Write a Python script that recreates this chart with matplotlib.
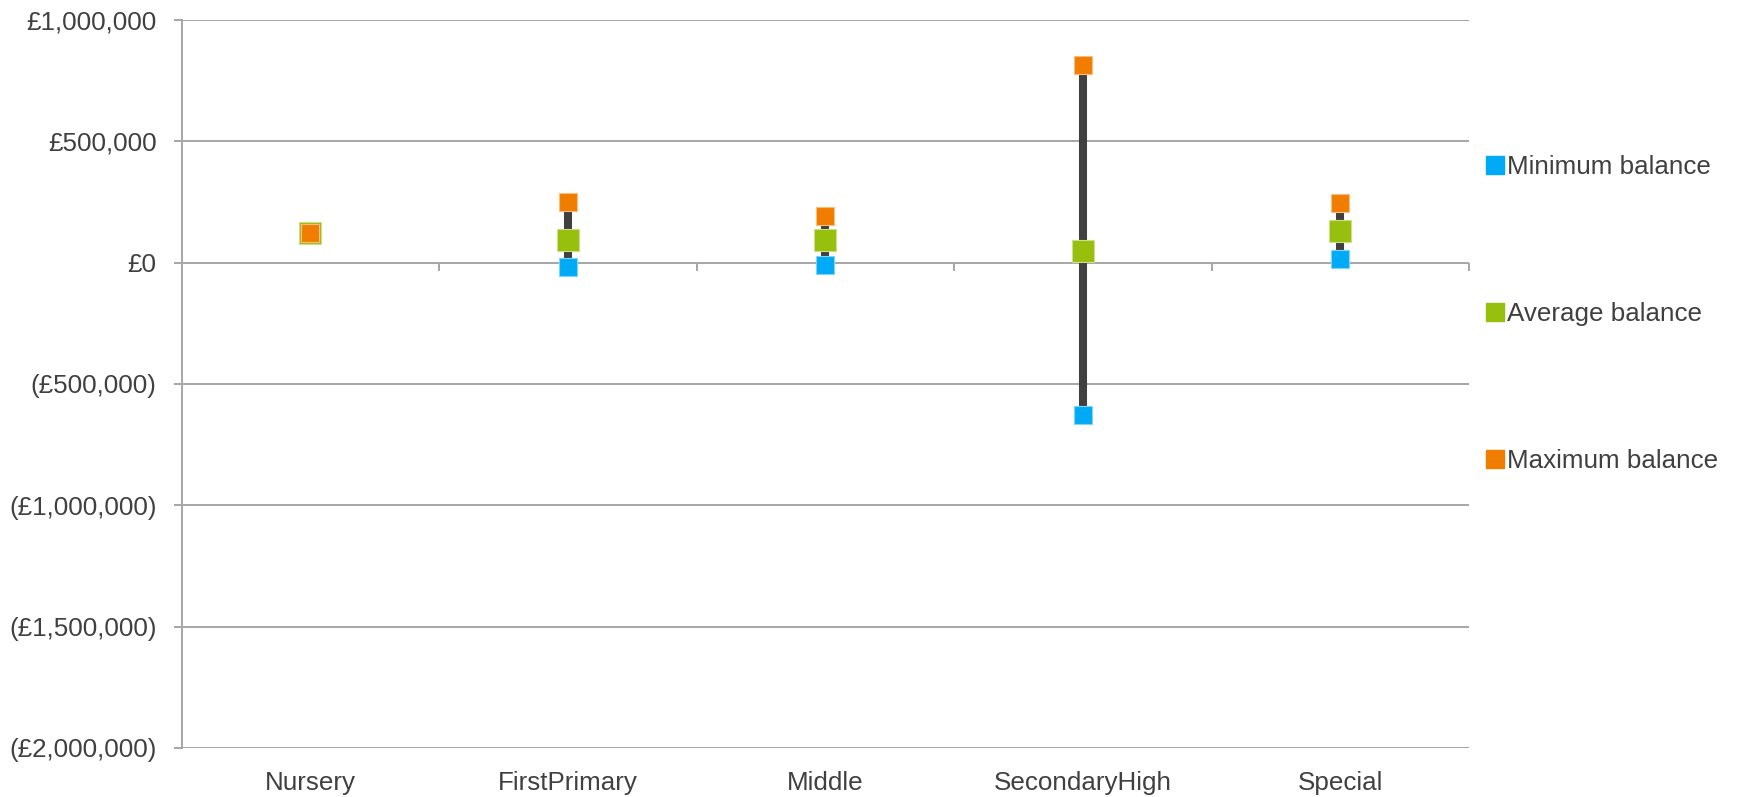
import matplotlib
matplotlib.use("Agg")
import matplotlib.pyplot as plt
from matplotlib.ticker import FuncFormatter
from matplotlib.lines import Line2D

plt.rcParams['font.family'] = ['Liberation Sans', 'DejaVu Sans']

categories = ['Nursery', 'FirstPrimary', 'Middle', 'SecondaryHigh', 'Special']
min_balance = [124000, -16000, -10000, -628000, 15000]
avg_balance = [124000, 94000, 94000, 49000, 131000]
max_balance = [124000, 251000, 194000, 815000, 246000]

blue = '#00AAF5'
green = '#97BF0D'
orange = '#F07D00'
grid_col = '#A6A6A6'
text_col = '#404040'
fs = 18.7
lw = 1.4

fig = plt.figure(figsize=(17.4, 7.97), dpi=100)
ax = fig.add_axes([0.1044, 0.0615, 0.7399, 0.9134])

x = list(range(len(categories)))

# high-low lines
ax.vlines(x, min_balance, max_balance, color='#404040', linewidth=5.8, zorder=2)

ax.plot(x, min_balance, 's', color=blue, markersize=12.7, markeredgecolor='#7FD4FA',
        markeredgewidth=0.8, zorder=3, label='Minimum balance')
ax.plot(x, avg_balance, 's', color=green, markersize=16.5, markeredgecolor='#CBDF86',
        markeredgewidth=0.8, zorder=4, label='Average balance')
ax.plot(x, max_balance, 's', color=orange, markersize=12.7, markeredgecolor='#F7BE7F',
        markeredgewidth=0.8, zorder=5, label='Maximum balance')

ax.set_xlim(-0.5, len(categories) - 0.5)
ax.set_ylim(-2000000, 1000000)
ax.set_yticks(range(-2000000, 1000001, 500000))


def money(v, pos):
    if v == 0:
        return '£0'
    if v < 0:
        return '(£{:,.0f})'.format(-v)
    return '£{:,.0f}'.format(v)


ax.yaxis.set_major_formatter(FuncFormatter(money))
ax.set_xticks(x)
ax.set_xticklabels(categories)

ax.grid(axis='y', color=grid_col, linewidth=lw, zorder=0)
ax.set_axisbelow(True)
for s in ['top', 'right', 'bottom']:
    ax.spines[s].set_visible(False)
ax.spines['left'].set_color(grid_col)
ax.spines['left'].set_linewidth(lw)

ax.tick_params(axis='y', colors=grid_col, length=6, width=lw, pad=12,
               labelcolor=text_col, labelsize=fs)
ax.tick_params(axis='x', length=0, pad=16.5, labelcolor=text_col, labelsize=fs)

# category boundary ticks hanging below the zero line
zero_pos = (0 - ax.get_ylim()[0]) / (ax.get_ylim()[1] - ax.get_ylim()[0])
sec = ax.secondary_xaxis(zero_pos)
sec.set_xticks([i + 0.5 for i in range(len(categories))])
sec.set_xticklabels([])
sec.tick_params(axis='x', direction='in', length=5.5, width=lw, colors=grid_col)
for s in sec.spines.values():
    s.set_visible(False)

handles = [Line2D([], [], marker='s', linestyle='none', color=c, markersize=12.5)
           for c in [blue, green, orange]]
labels = ['Minimum balance', 'Average balance', 'Maximum balance']
fig.legend(handles, labels, loc='upper left', bbox_to_anchor=(0.848, 0.818),
           frameon=False, fontsize=fs, labelcolor=text_col, handlelength=0.7,
           handletextpad=0.1, labelspacing=4.73, borderaxespad=0)

fig.savefig('out.png', dpi=100)
